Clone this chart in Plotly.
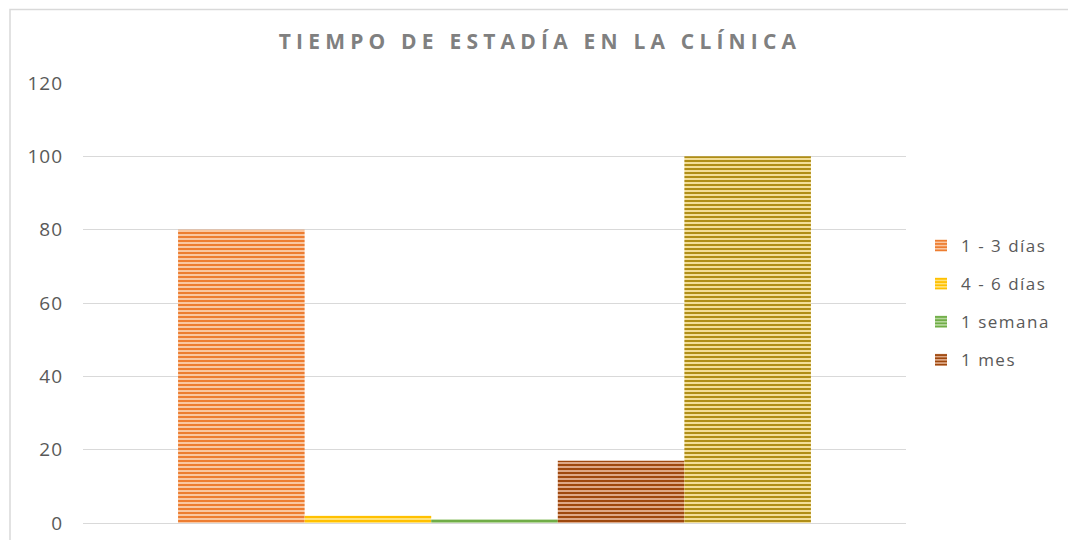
import plotly.graph_objects as go

categories = [""]
series_names = ["1 - 3 días", "4 - 6 días", "1 semana", "1 mes", "Total"]
series_values = [80, 2, 1, 17, 100]
series_colors = ["#ED7D31", "#FFC000", "#70AD47", "#9E480E", "#B08E16"]
series_light = ["#F9C7A2", "#FFE27A", "#B4D69B", "#DDA887", "#F3DE98"]
show_in_legend = [True, True, True, True, False]
y_ticks = [0, 20, 40, 60, 80, 100, 120]

W, H = 1068, 540
L, R, T, B = 83, 162, 83, 17
pw, ph = W - L - R, H - T - B

fig = go.Figure()
for i, (name, val) in enumerate(zip(series_names, series_values)):
    fig.add_trace(go.Bar(
        x=categories, y=[val], name=name,
        showlegend=show_in_legend[i],
        legendgroup=f"g{i}",
        marker=dict(
            color=series_colors[i],
            line=dict(width=0),
            pattern=dict(shape="-", fgcolor=series_colors[i],
                         bgcolor=series_light[i], size=4, solidity=0.5,
                         fillmode="replace"),
        ),
    ))

# chart-area border (top and left edges visible in the reference)
fig.add_shape(type="rect", xref="paper", yref="paper",
              x0=(10 - L) / pw, x1=(W + 20 - L) / pw,
              y0=-(B + 30) / ph, y1=(ph + T - 9.5) / ph,
              line=dict(color="#D9D9D9", width=1.5), fillcolor="rgba(0,0,0,0)",
              layer="below")

fig.update_layout(
    width=W, height=H,
    paper_bgcolor="white", plot_bgcolor="white",
    margin=dict(l=L, r=R, t=T, b=B, autoexpand=False),
    barmode="group", bargap=0.231, bargroupgap=0,
    title=dict(text="<b>TIEMPO DE ESTADÍA EN LA CLÍNICA</b>",
               x=(540 - L) / pw, xref="paper", xanchor="center",
               y=1 - 42 / H, yanchor="middle",
               font=dict(family="Open Sans, Liberation Sans, sans-serif",
                         size=21, color="#808080")),
    font=dict(family="Open Sans, Liberation Sans, sans-serif", color="#595959"),
    yaxis=dict(range=[0, 120], tickvals=y_ticks, showgrid=True,
               gridcolor="#D9D9D9", gridwidth=1, zeroline=True,
               zerolinecolor="#D9D9D9", zerolinewidth=1,
               tickfont=dict(size=19, color="#595959"), ticks="",
               ticklabelstandoff=19, showline=False, automargin=False),
    xaxis=dict(showticklabels=False, showgrid=False, ticks="",
               showline=False, zeroline=False, automargin=False),
    legend=dict(x=(921 - L) / pw, xanchor="left", y=0.5, yanchor="middle",
                font=dict(size=17, color="#595959"),
                traceorder="grouped", tracegroupgap=13,
                itemwidth=30, bgcolor="rgba(0,0,0,0)"),
)

post = """
document.body.style.margin = '0';
var gd = document.getElementById('{plot_id}');
function spacing(){
  gd.querySelectorAll('.gtitle').forEach(function(e){ e.style.letterSpacing = '5.2px'; });
  gd.querySelectorAll('.ytick text').forEach(function(e){ e.style.letterSpacing = '1px'; });
  gd.querySelectorAll('.legendtext').forEach(function(e){ e.style.letterSpacing = '1.5px'; });
  gd.querySelectorAll('.legend [clip-path]').forEach(function(e){ e.removeAttribute('clip-path'); });
}
spacing();
gd.on('plotly_afterplot', spacing);
"""

fig.write_html("out.html", post_script=post, config={"displayModeBar": False})
